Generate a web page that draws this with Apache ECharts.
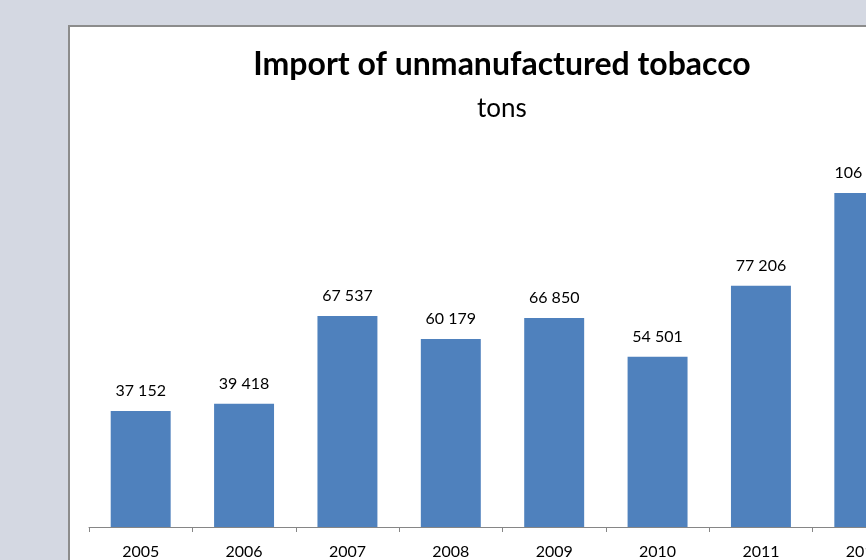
<!DOCTYPE html>
<html>
<head>
<meta charset="utf-8">
<script src="https://cdn.jsdelivr.net/npm/echarts@6/dist/echarts.min.js"></script>
<style>
  html, body { margin: 0; padding: 0; width: 866px; height: 560px; overflow: hidden; background: #d4d8e2; }
  #frame { position: absolute; left: 68px; top: 25px; width: 864px; height: 580px; border: 2px solid #8c8c8c; background: #ffffff; }
  #chart { width: 864px; height: 580px; }
</style>
</head>
<body>
<div id="frame"><div id="chart"></div></div>
<script>
const titleText = 'Import of unmanufactured tobacco';
const subtitleText = 'tons';
const years = ['2005', '2006', '2007', '2008', '2009', '2010', '2011', '2012'];
const imports = [37152, 39418, 67537, 60179, 66850, 54501, 77206, 106900];

function fmt(v) {
  return String(v).replace(/\B(?=(\d{3})+(?!\d))/g, ' ');
}

const chart = echarts.init(document.getElementById('chart'));
chart.setOption({
  animation: false,
  backgroundColor: '#ffffff',
  title: [{
    text: titleText,
    left: 'center',
    top: 17,
    textStyle: { fontFamily: 'Lato', fontWeight: 'bold', fontSize: 32, color: '#000000' }
  }, {
    text: subtitleText,
    left: 'center',
    top: 64,
    textStyle: { fontFamily: 'Lato', fontWeight: 'normal', fontSize: 26, color: '#000000' }
  }],
  grid: { left: 19, right: 18, top: 125, bottom: 80, containLabel: false },
  xAxis: {
    type: 'category',
    data: years,
    boundaryGap: true,
    axisLine: { lineStyle: { color: '#868686', width: 1 } },
    axisTick: { show: true, length: 5, lineStyle: { color: '#868686' } },
    axisLabel: { fontFamily: 'Lato', fontSize: 16, color: '#000000', margin: 17 }
  },
  yAxis: {
    type: 'value',
    min: 0,
    max: 120000,
    show: false,
    splitLine: { show: false }
  },
  series: [{
    type: 'bar',
    data: imports,
    barWidth: '58%',
    itemStyle: { color: '#4f81bd' },
    label: {
      show: true,
      position: 'top',
      distance: 12,
      fontFamily: 'Lato',
      fontSize: 16,
      color: '#000000',
      formatter: p => fmt(p.value)
    }
  }]
});
</script>
</body>
</html>
